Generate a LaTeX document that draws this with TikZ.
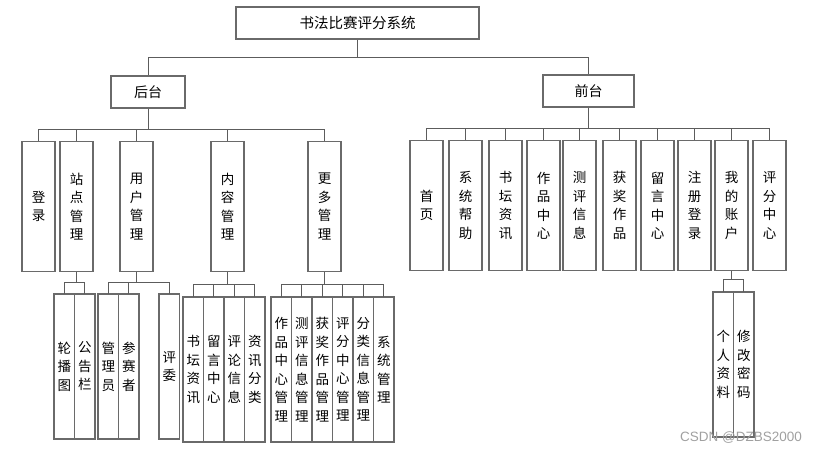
\documentclass[tikz,border=0pt]{standalone}
\usepackage{fontspec}
\usetikzlibrary{positioning}
\newfontfamily\cjk{Noto Sans CJK SC}
\newfontfamily\wmfont{Liberation Sans}
\definecolor{boxborder}{HTML}{6A6A6A}
\definecolor{linkgray}{HTML}{5C5C5C}
\definecolor{markgray}{HTML}{A0A0A0}

\begin{document}
\begin{tikzpicture}[x=1pt, y=-1pt,
      hbox/.style={draw=boxborder, line width=1.1pt, minimum height=32pt,
        inner sep=0pt, font=\cjk\fontsize{14}{16}\selectfont},
      vbox/.style={draw=boxborder, line width=1.1pt, minimum width=33pt,
        minimum height=130pt, inner sep=0pt, align=center, anchor=north,
        font=\cjk\fontsize{13.5}{18.5}\selectfont},
      leaf/.style={vbox, minimum width=20.5pt, minimum height=145pt,
        outer sep=0pt},
      link/.style={draw=linkgray, line width=0.9pt}
    ]
      \useasboundingbox (0,0) rectangle (815,454);
      % levels
      \node[hbox, minimum width=243pt, font=\cjk\fontsize{14.5}{16}\selectfont]
        (root) at (357.5,23) {书法比赛评分系统};
      \node[hbox, minimum width=74pt] (back) at (148,92) {后台};
      \node[hbox, minimum width=91pt] (front) at (588.5,91) {前台};
      % back end
      \node[vbox] (login) at (38.5,141) {登\\录};
      \node[vbox] (site) at (76.5,141) {站\\点\\管\\理};
      \node[vbox] (user) at (136.5,141) {用\\户\\管\\理};
      \node[vbox] (content) at (227.5,141) {内\\容\\管\\理};
      \node[vbox] (more) at (324.5,141) {更\\多\\管\\理};
      % front end
      \node[vbox] (home) at (426.5,140) {首\\页};
      \node[vbox] (help) at (465.5,140) {系\\统\\帮\\助};
      \node[vbox] (forum) at (505.5,140) {书\\坛\\资\\讯};
      \node[vbox] (works) at (543.5,140) {作\\品\\中\\心};
      \node[vbox] (review) at (579.5,140) {测\\评\\信\\息};
      \node[vbox] (award) at (619.5,140) {获\\奖\\作\\品};
      \node[vbox] (message) at (657.5,140) {留\\言\\中\\心};
      \node[vbox] (register) at (694.5,140) {注\\册\\登\\录};
      \node[vbox] (account) at (731.5,140) {我\\的\\账\\户};
      \node[vbox] (score) at (769.5,140) {评\\分\\中\\心};
      % leaves
      \node[leaf] (carousel) at (64.25,294) {轮\\播\\图};
      \node[leaf, right=0pt of carousel] (notice) {公\\告\\栏};
      \node[leaf] (admin) at (108.25,294) {管\\理\\员};
      \node[leaf, right=0pt of admin] (player) {参\\赛\\者};
      \node[leaf, right=20pt of player] (judge) {评\\委};
      \node[leaf] (cforum) at (193.25,297) {书\\坛\\资\\讯};
      \node[leaf, right=0pt of cforum] (cmessage) {留\\言\\中\\心};
      \node[leaf, right=0pt of cmessage] (ccomment) {评\\论\\信\\息};
      \node[leaf, right=0pt of ccomment] (ctype) {资\\讯\\分\\类};
      \node[leaf] (mworks) at (281.25,297) {作\\品\\中\\心\\管\\理};
      \node[leaf, right=0pt of mworks] (mreview) {测\\评\\信\\息\\管\\理};
      \node[leaf, right=0pt of mreview] (maward) {获\\奖\\作\\品\\管\\理};
      \node[leaf, right=0pt of maward] (mscore) {评\\分\\中\\心\\管\\理};
      \node[leaf, right=0pt of mscore] (mtype) {分\\类\\信\\息\\管\\理};
      \node[leaf, right=0pt of mtype] (msystem) {系\\统\\管\\理};
      \node[leaf] (profile) at (723.25,292) {个\\人\\资\\料};
      \node[leaf, right=0pt of profile] (password) {修\\改\\密\\码};
      % bus heights
      \coordinate (rootbus) at (0,57);
      \coordinate (backbus) at (0,129);
      \coordinate (frontbus) at (0,128);
      \coordinate (sitebus) at (0,282);
      \coordinate (userbus) at (0,282);
      \coordinate (contentbus) at (0,284);
      \coordinate (morebus) at (0,284);
      \coordinate (accountbus) at (0,279);
      % connectors
      \draw[link] (root.south) |- (back.north |- rootbus) -- (back.north)
        (root.south) |- (front.north |- rootbus) -- (front.north);
      \draw[link] (back.south) |- (login.north |- backbus) -- (login.north)
        (back.south) |- (site.north |- backbus) -- (site.north)
        (back.south) |- (user.north |- backbus) -- (user.north)
        (back.south) |- (content.north |- backbus) -- (content.north)
        (back.south) |- (more.north |- backbus) -- (more.north);
      \draw[link] (front.south) |- (home.north |- frontbus) -- (home.north)
        (front.south) |- (help.north |- frontbus) -- (help.north)
        (front.south) |- (forum.north |- frontbus) -- (forum.north)
        (front.south) |- (works.north |- frontbus) -- (works.north)
        (front.south) |- (review.north |- frontbus) -- (review.north)
        (front.south) |- (award.north |- frontbus) -- (award.north)
        (front.south) |- (message.north |- frontbus) -- (message.north)
        (front.south) |- (register.north |- frontbus) -- (register.north)
        (front.south) |- (account.north |- frontbus) -- (account.north)
        (front.south) |- (score.north |- frontbus) -- (score.north);
      \draw[link] (site.south) |- (carousel.north |- sitebus) -- (carousel.north)
        (site.south) |- (notice.north |- sitebus) -- (notice.north);
      \draw[link] (user.south) |- (admin.north |- userbus) -- (admin.north)
        (user.south) |- (player.north |- userbus) -- (player.north)
        (user.south) |- (judge.north |- userbus) -- (judge.north);
      \draw[link] (content.south) |- (cforum.north |- contentbus) -- (cforum.north)
        (content.south) |- (cmessage.north |- contentbus) -- (cmessage.north)
        (content.south) |- (ccomment.north |- contentbus) -- (ccomment.north)
        (content.south) |- (ctype.north |- contentbus) -- (ctype.north);
      \draw[link] (more.south) |- (mworks.north |- morebus) -- (mworks.north)
        (more.south) |- (mreview.north |- morebus) -- (mreview.north)
        (more.south) |- (maward.north |- morebus) -- (maward.north)
        (more.south) |- (mscore.north |- morebus) -- (mscore.north)
        (more.south) |- (mtype.north |- morebus) -- (mtype.north)
        (more.south) |- (msystem.north |- morebus) -- (msystem.north);
      \draw[link] (account.south) |- (profile.north |- accountbus) -- (profile.north)
        (account.south) |- (password.north |- accountbus) -- (password.north);
      % watermark
      \node[font=\wmfont\fontsize{13.5}{16}\selectfont, text=markgray]
        (mark) at (741,438) {CSDN @DZBS2000};
    \end{tikzpicture}
\end{document}
